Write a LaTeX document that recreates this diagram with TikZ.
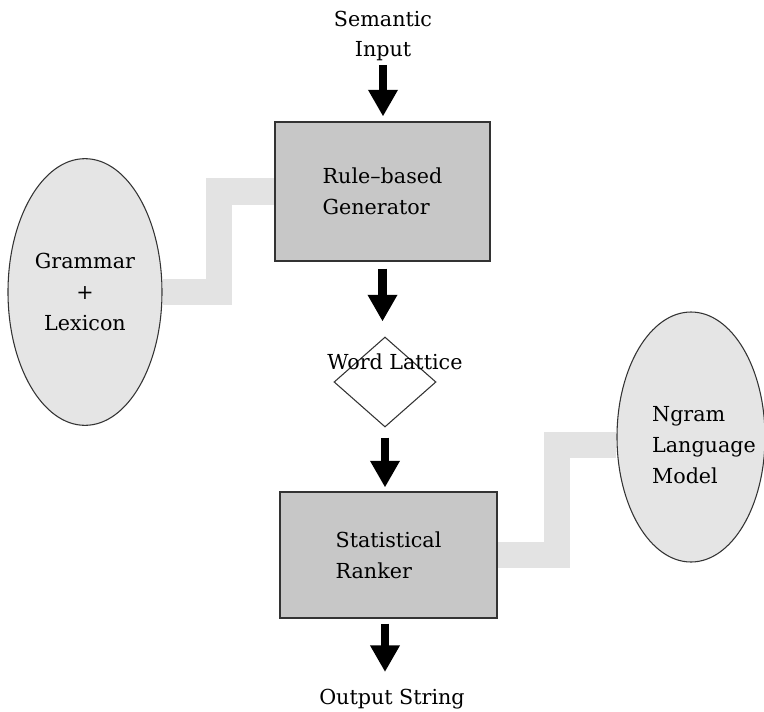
\documentclass[tikz,border=0pt]{standalone}
\usepackage{fontspec}
\setmainfont{DejaVu Serif}
\usetikzlibrary{shapes.geometric,arrows.meta,backgrounds}
\tikzset{
  txt/.style={font=\fontsize{15.5pt}{23pt}\selectfont,text=black},
  box/.style={draw=black!80,line width=0.8pt,fill=black!22,minimum width=161.25pt,align=left,inner sep=0pt},
  store/.style={ellipse,draw=black!80,line width=0.8pt,fill=black!10,inner sep=0pt},
  link/.style={draw=black!11,line width=20pt},
  bigarrow/.style={-{Triangle[width=21pt,length=20pt]},line width=6.5pt},
}
\begin{document}
\begin{tikzpicture}[x=0.75pt,y=-0.75pt,every node/.style={txt}]
    \useasboundingbox (0,0) rectangle (764,711);
    \node[align=center,inner sep=0pt] (sem) at (383,36) {Semantic\\Input}; %入力
    \node[box,minimum height=104.25pt] (gen) at (382.5,191.5) {Rule--based\\Generator};
    \node[store,align=center,minimum width=115.5pt,minimum height=200pt] (gram) at (85,292) {Grammar\\+\\Lexicon};
    \node[diamond,draw=black!80,line width=0.8pt,minimum width=76.5pt,minimum height=67.5pt,inner sep=0pt] (lat) at (385,382) {};
    \node[inner sep=0pt] (latname) at (395,362) {Word Lattice};
    \node[box,minimum width=162.75pt,minimum height=94.5pt] (rank) at (388.5,555) {Statistical\\Ranker};
    \node[store,minimum width=111pt,minimum height=187.5pt] (ngram) at (691,437) {};
    \node[align=left,inner sep=0pt] (ngramname) at (704,445) {Ngram\\Language\\Model};
    \node[anchor=north,inner sep=0pt] (out) at (392,689) {Output String}; %出力
    \begin{scope}[on background layer]
        \draw[link] (gram.east) -- ++(56.5,0) |- (gen.west);
        \draw[link] (rank.east) -- ++(59.5,0) |- ([yshift=-6pt]ngram.west);
    \end{scope}
    \draw[bigarrow,shorten <=2.5pt,shorten >=3.75pt] (sem.south) -- (sem.south |- gen.north);
    \draw[bigarrow,shorten <=5.25pt,shorten >=11.25pt] (gen.south) -- (gen.south |- lat.north);
    \draw[bigarrow,shorten <=7.5pt,shorten >=3pt] (lat.south) -- (lat.south |- rank.north);
    \draw[bigarrow,shorten <=3.75pt,shorten >=12.75pt] (lat.south |- rank.south) -- (lat.south |- out.north);
\end{tikzpicture}
\end{document}
